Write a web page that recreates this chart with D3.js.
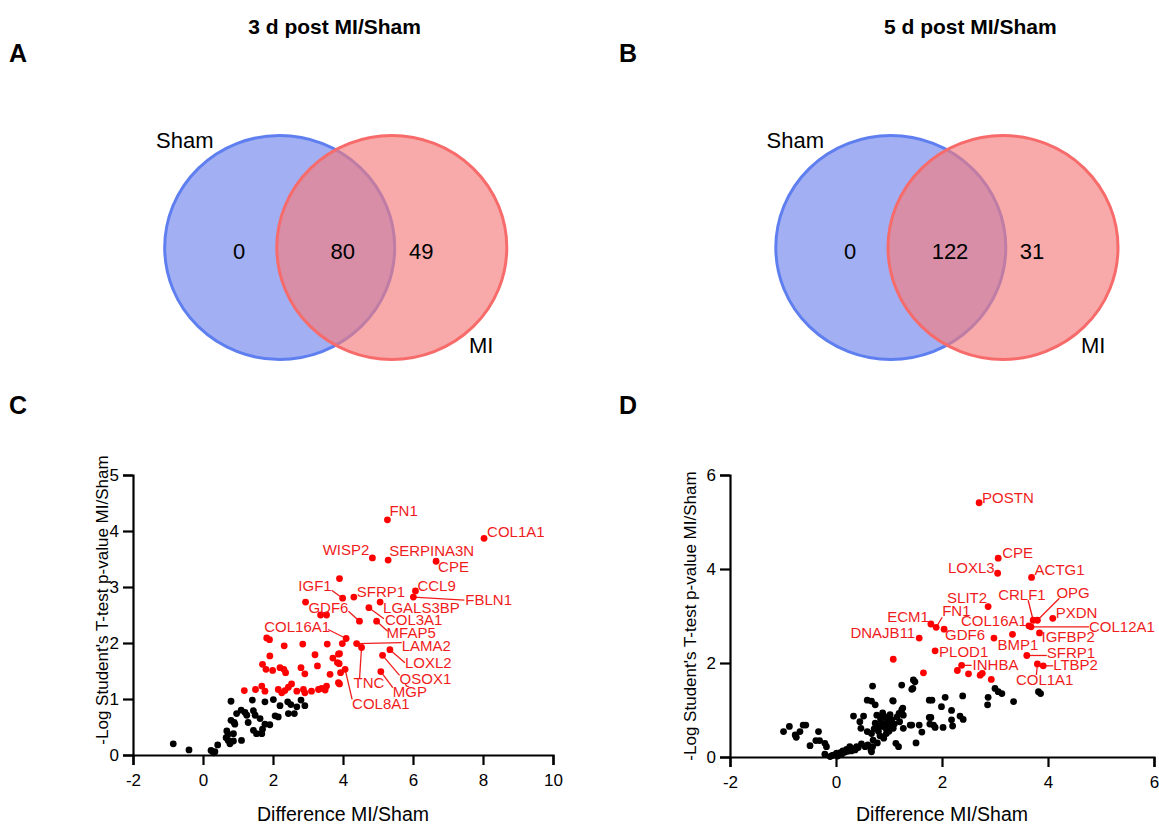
<!DOCTYPE html>
<html>
<head>
<meta charset="utf-8">
<script src="https://cdn.jsdelivr.net/npm/d3@7"></script>
<style>
  html, body { margin: 0; padding: 0; background: #fff; }
  svg { display: block; font-family: "Liberation Sans", Arial, sans-serif; }
</style>
</head>
<body>
<svg id="fig" width="1159" height="825"></svg>
<script>
// ---------- data ----------
const vennSets = ["Sham", "MI"];
const vennTitles = ["3 d post MI/Sham", "5 d post MI/Sham"];
// counts: [Sham only, shared, MI only]
const venn3d = [0, 80, 49];
const venn5d = [0, 122, 31];

const xTicks3 = [-2, 0, 2, 4, 6, 8, 10];
const yTicks3 = [0, 1, 2, 3, 4, 5];
const xTicks5 = [-2, 0, 2, 4, 6];
const yTicks5 = [0, 2, 4, 6];

// 3 d: non-significant proteins [difference, -log p]
const day3Black = [
  [-0.85,0.20],[-0.40,0.09],[0.23,0.08],[0.34,0.06],[0.42,0.18],[0.30,0.04],
  [0.80,0.96],[1.41,0.98],[1.77,0.95],[2.01,0.99],[2.20,0.88],[2.42,0.95],
  [2.51,0.90],[2.68,0.86],[2.80,0.98],[2.91,0.88],[2.44,0.74],[2.61,0.74],
  [1.09,0.80],[1.20,0.76],[1.25,0.71],[0.96,0.74],[1.44,0.79],[1.49,0.71],
  [1.63,0.65],[2.06,0.70],[2.15,0.68],[0.80,0.62],[0.89,0.58],[0.91,0.55],
  [1.29,0.58],[1.77,0.55],[1.91,0.54],[0.68,0.43],[0.72,0.37],[0.87,0.38],
  [0.66,0.31],[0.72,0.26],[0.77,0.20],[0.87,0.25],[1.10,0.26],[1.44,0.44],
  [1.53,0.38],[1.70,0.46],[1.68,0.38]
];
// 3 d: significant, unlabeled
const day3Red = [
  [1.18,1.15],[1.50,1.17],[1.68,1.23],[1.77,1.14],[1.82,2.09],[1.90,2.06],
  [1.91,1.77],[1.70,1.62],[1.80,1.53],[1.99,1.51],[2.20,1.56],[2.31,1.53],
  [2.36,1.47],[2.32,1.95],[2.15,1.17],[2.25,1.11],[2.34,1.15],[2.44,1.21],
  [2.53,1.27],[2.68,1.14],[2.80,1.56],[2.91,1.45],[2.85,1.98],[2.87,1.17],
  [2.91,1.11],[3.10,1.14],[3.20,1.79],[3.27,1.59],[3.30,1.17],[3.39,1.19],
  [3.49,1.16],[3.53,1.23],[3.55,1.98],[3.63,1.44],[3.71,1.73],[3.87,1.80],
  [3.89,1.63],[3.87,1.29],[3.93,1.47],[3.98,1.99],[3.36,2.50],[3.53,2.50],
  [2.93,2.73],[3.90,3.15],[3.90,1.81],[3.84,1.65],[3.90,1.27]
];
// 3 d: labeled proteins
const day3Labeled = [
  ["FN1",5.27,4.20],["COL1A1",8.03,3.87],["WISP2",4.84,3.52],["SERPINA3N",5.29,3.48],
  ["CPE",6.66,3.46],["CCL9",6.07,2.93],["FBLN1",6.01,2.82],["SFRP1",4.31,2.82],
  ["IGF1",3.99,2.80],["GDF6",4.47,2.39],["LGALS3BP",5.06,2.73],["COL3A1",4.74,2.63],
  ["MFAP5",4.96,2.39],["COL16A1",4.09,2.08],["LAMA2",4.39,1.99],["TNC",4.53,1.92],
  ["LOXL2",5.34,1.88],["QSOX1",5.13,1.78],["MGP",5.08,1.49],["COL8A1",4.06,1.53]
];

// 5 d: non-significant proteins
const day5Black = [
  [-0.99,0.54],[-0.88,0.65],[-0.77,0.47],[-0.75,0.42],[-0.68,0.54],[-0.62,0.68],
  [-0.57,0.68],[-0.49,0.24],[-0.38,0.35],[-0.31,0.35],[-0.33,0.54],[-0.21,0.29],
  [-0.18,0.22],[-0.21,0.06],[-0.11,0.01],[-0.05,0.04],[0.01,0.08],[0.08,0.09],
  [0.13,0.13],[0.20,0.16],[0.26,0.22],[0.33,0.18],[0.39,0.22],[0.48,0.28],
  [0.55,0.22],[0.67,0.11],[0.69,0.22],[-0.08,0.03],[0.03,0.02],[0.10,0.05],
  [0.16,0.10],[0.22,0.12],[0.29,0.13],[0.36,0.15],[0.42,0.20],[0.60,0.26],
  [0.66,0.15],
  [0.33,0.87],[0.45,0.75],[0.52,0.87],[0.47,0.61],[0.59,1.21],[0.67,1.19],
  [0.69,1.51],[0.74,1.11],[0.59,0.54],[0.67,0.50],[0.70,0.36],[0.74,0.72],
  [0.77,0.89],[0.80,0.64],[0.83,0.45],[0.88,0.94],[0.92,0.86],[0.94,0.61],
  [0.99,0.68],[1.05,0.79],[1.07,1.20],[1.08,0.61],[1.13,0.29],[1.18,0.22],
  [1.19,0.93],[1.24,1.53],[1.26,1.04],[1.27,0.61],[1.40,0.68],[1.45,1.46],
  [1.49,1.60],[1.51,0.30],[1.57,0.68],[1.62,0.53],[1.76,1.21],[1.76,0.84],
  [1.77,0.70],[0.80,0.55],[0.85,0.75],[0.90,0.40],[0.95,0.50],[0.78,0.30],
  [0.72,0.60],[0.86,0.65],[0.90,0.70],[1.00,0.55],[0.97,0.80],[1.02,0.90],
  [1.10,0.70],[1.15,0.85],[1.20,0.75],[0.84,0.82],
  [1.46,1.64],[1.43,1.44],[1.08,1.19],[1.81,1.21],[2.06,1.27],[2.39,1.30],
  [1.99,1.07],[2.18,0.99],[1.79,0.84],[1.84,0.68],[1.87,0.63],[2.02,0.63],
  [2.18,0.79],[2.20,0.66],[2.34,0.87],[2.40,0.80],[1.43,0.68],[1.24,1.00],
  [1.27,0.89],[2.87,1.27],[2.86,1.11],[3.00,1.46],[3.06,1.39],[3.13,1.35],
  [3.35,1.18],[3.82,1.39],[3.86,1.35]
];
// 5 d: significant, unlabeled
const day5Red = [
  [1.08,2.08],[1.65,1.79],[2.29,1.84],[2.50,1.77],[2.72,1.74],[2.76,1.78],
  [2.93,1.65],[2.98,2.53]
];
// 5 d: labeled proteins
const day5Labeled = [
  ["POSTN",2.70,5.41],["CPE",3.06,4.23],["LOXL3",3.05,3.91],["ACTG1",3.69,3.82],
  ["SLIT2",2.87,3.20],["CRLF1",3.72,2.91],["OPG",3.80,2.91],["PXDN",4.09,2.95],
  ["COL16A1",3.64,2.79],["COL12A1",3.68,2.77],["IGFBP2",3.84,2.64],["BMP1",3.33,2.61],
  ["GDF6",2.04,2.72],["FN1",1.89,2.76],["ECM1",1.79,2.83],["DNAJB11",1.57,2.53],
  ["PLOD1",1.87,2.26],["INHBA",2.37,1.95],["SFRP1",3.60,2.16],["LTBP2",3.91,1.94],
  ["COL1A1",3.80,1.98]
];

// ---------- label placement (pixel offsets from each point) ----------
const place3 = {
  FN1:{dx:2,dy:-4}, COL1A1:{dx:3,dy:-1}, WISP2:{dx:-3,dy:-3,a:"end"},
  SERPINA3N:{dx:1,dy:-4}, CPE:{dx:2,dy:11}, CCL9:{dx:2,dy:0},
  FBLN1:{dx:52,dy:8,lx:51,ly:3}, SFRP1:{dx:3,dy:0},
  IGF1:{dx:-11,dy:-7,a:"end",lx:-11,ly:-8}, GDF6:{dx:-11,dy:-8.5,a:"end",lx:-11,ly:-10},
  LGALS3BP:{dx:3,dy:11}, COL3A1:{dx:16,dy:17,lx:15,ly:11}, MFAP5:{dx:10,dy:16.5,lx:11,ly:10},
  COL16A1:{dx:-16,dy:-7,a:"end",lx:-18,ly:-9}, LAMA2:{dx:45,dy:7,lx:45,ly:-1},
  TNC:{dx:-8,dy:41,lx:-2,ly:31}, LOXL2:{dx:15,dy:18,lx:15,ly:13},
  QSOX1:{dx:17,dy:29,lx:17,ly:20}, MGP:{dx:12,dy:25,lx:12,ly:16},
  COL8A1:{dx:7,dy:40,lx:7,ly:30}
};
const place5 = {
  POSTN:{dx:3,dy:0}, CPE:{dx:4,dy:0}, LOXL3:{dx:-3,dy:0,a:"end"}, ACTG1:{dx:3,dy:-2},
  SLIT2:{dx:-1,dy:-4,a:"end"}, CRLF1:{dx:-35,dy:-20,lx:-5,ly:-20},
  OPG:{dx:19,dy:-22,lx:22,ly:-22}, PXDN:{dx:3,dy:0}, COL16A1:{dx:-2,dy:0,a:"end"},
  COL12A1:{dx:58,dy:5,lx:58,ly:0}, IGFBP2:{dx:2,dy:9.5}, BMP1:{dx:-15,dy:15.5},
  GDF6:{dx:1,dy:11}, FN1:{dx:6,dy:-11,lx:6,ly:-10}, ECM1:{dx:-2,dy:-1.5,a:"end"},
  DNAJB11:{dx:-4,dy:0,a:"end"}, PLOD1:{dx:4,dy:6}, INHBA:{dx:11,dy:5,lx:10,ly:0},
  SFRP1:{dx:20,dy:3,lx:20,ly:0}, LTBP2:{dx:10,dy:4.5,lx:10,ly:0},
  COL1A1:{dx:-21.5,dy:21.5,lx:-1,ly:11}
};

// ---------- drawing ----------
const svg = d3.select("#fig");
const RED = "#ff0000";
const LABEL_RED = "#f01c1c";

function panelLetter(txt, x, y) {
  svg.append("text").attr("x", x).attr("y", y)
    .attr("font-size", 25).attr("font-weight", "bold").attr("fill", "#000").text(txt);
}

// Two-set Venn diagram; lay = layout of one panel
function venn(counts, title, lay) {
  const g = svg.append("g");
  const cy = 247.5, rx = 115, ry = 112;
  g.append("text").attr("x", lay.titleX).attr("y", 34).attr("text-anchor", "middle")
    .attr("font-size", 21).attr("font-weight", "bold").text(title);
  g.append("ellipse").attr("cx", lay.cxL).attr("cy", cy).attr("rx", rx).attr("ry", ry)
    .attr("fill", "#a2b0f3").attr("stroke", "#5f7ff0").attr("stroke-width", 3);
  g.append("ellipse").attr("cx", lay.cxR).attr("cy", cy).attr("rx", rx).attr("ry", ry)
    .attr("fill", "rgb(244,123,123)").attr("fill-opacity", 0.645)
    .attr("stroke", "#f76b6b").attr("stroke-width", 3);
  g.append("text").attr("x", lay.shamX).attr("y", 148).attr("font-size", 22).text(vennSets[0]);
  g.append("text").attr("x", lay.miX).attr("y", 353).attr("font-size", 22).text(vennSets[1]);
  counts.forEach((c, i) => {
    g.append("text").attr("x", lay.numX[i]).attr("y", 258.5).attr("text-anchor", "middle")
      .attr("font-size", 22).text(c);
  });
}

panelLetter("A", 9, 62);
panelLetter("B", 619, 62);
venn(venn3d, vennTitles[0],
  {titleX: 334.6, cxL: 279.7, cxR: 391.8, shamX: 156, miX: 469, numX: [239, 342.8, 421.2]});
venn(venn5d, vennTitles[1],
  {titleX: 970.3, cxL: 890.8, cxR: 1003, shamX: 766.6, miX: 1081, numX: [850, 950, 1032]});

panelLetter("C", 9, 414);
panelLetter("D", 619, 414);

function scatter(cfg) {
  const g = svg.append("g");
  const x = d3.scaleLinear().domain(cfg.xd).range(cfg.xr);
  const y = d3.scaleLinear().domain(cfg.yd).range(cfg.yr);

  const ax = g.append("g").attr("transform", `translate(0,${cfg.yr[0]})`)
    .call(d3.axisBottom(x).tickValues(cfg.xt).tickFormat(d => String(d))
      .tickSizeOuter(0).tickSize(10).tickPadding(9));
  const ay = g.append("g").attr("transform", `translate(${cfg.xr[0]},0)`)
    .call(d3.axisLeft(y).tickValues(cfg.yt).tickFormat(d => String(d))
      .tickSizeOuter(0).tickSize(10).tickPadding(4));
  [ax, ay].forEach(a => {
    a.select(".domain").attr("stroke", "#000").attr("stroke-width", 2.2);
    a.selectAll(".tick line").attr("stroke", "#000").attr("stroke-width", 2.2);
    a.selectAll(".tick text").attr("font-size", 17).attr("fill", "#000")
      .attr("font-family", "Liberation Sans, Arial, sans-serif");
  });

  g.append("text").attr("x", (cfg.xr[0] + cfg.xr[1]) / 2).attr("y", cfg.xTitleY)
    .attr("text-anchor", "middle").attr("font-size", 19.5).text("Difference MI/Sham");
  g.append("text")
    .attr("transform", `translate(${cfg.yTitleX},${cfg.yTitleY}) rotate(-90)`)
    .attr("text-anchor", "middle").attr("font-size", 17)
    .text("-Log Student's T-test p-value MI/Sham");

  const R = 3.4;
  g.append("g").selectAll("circle").data(cfg.black).join("circle")
    .attr("cx", d => x(d[0])).attr("cy", d => y(d[1])).attr("r", R).attr("fill", "#000");
  g.append("g").selectAll("circle").data(cfg.red).join("circle")
    .attr("cx", d => x(d[0])).attr("cy", d => y(d[1])).attr("r", R).attr("fill", RED);

  const lab = g.append("g");
  cfg.labeled.forEach(([name, vx, vy]) => {
    const px = x(vx), py = y(vy);
    const p = cfg.place[name] || {dx: 3, dy: 0};
    if (p.lx !== undefined) {
      lab.append("line").attr("x1", px).attr("y1", py)
        .attr("x2", px + p.lx).attr("y2", py + p.ly)
        .attr("stroke", LABEL_RED).attr("stroke-width", 1.3);
    }
    lab.append("circle").attr("cx", px).attr("cy", py).attr("r", R).attr("fill", RED);
    lab.append("text").attr("x", px + p.dx).attr("y", py + p.dy)
      .attr("text-anchor", p.a || "start").attr("font-size", 15)
      .attr("fill", LABEL_RED).text(name);
  });
}

scatter({
  xd: [-2, 10], xr: [133, 553], yd: [0, 5], yr: [755, 475],
  xt: xTicks3, yt: yTicks3, xTitleY: 821, yTitleX: 108, yTitleY: 600,
  black: day3Black, red: day3Red, labeled: day3Labeled, place: place3
});
scatter({
  xd: [-2, 6], xr: [730, 1154], yd: [0, 6], yr: [757, 475],
  xt: xTicks5, yt: yTicks5, xTitleY: 821, yTitleX: 696, yTitleY: 616,
  black: day5Black, red: day5Red, labeled: day5Labeled, place: place5
});
</script>
</body>
</html>
